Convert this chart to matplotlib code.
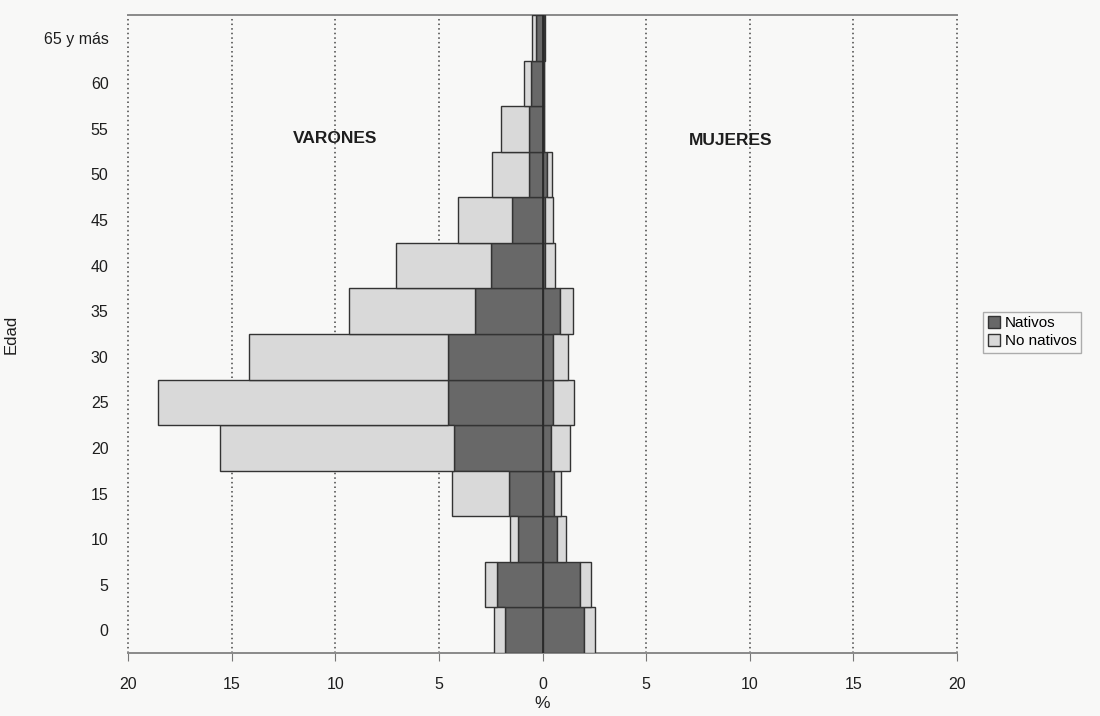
import numpy as np
import matplotlib.pyplot as plt

plt.rcParams['font.family'] = ['Liberation Sans', 'DejaVu Sans']

# age groups (bottom to top)
edades = ['0', '5', '10', '15', '20', '25', '30', '35', '40', '45', '50', '55', '60', '65 y más']

# % of population, males (left side)
var_nativos = [1.80, 2.18, 1.18, 1.63, 4.28, 4.55, 4.55, 3.26, 2.47, 1.46, 0.65, 0.65, 0.57, 0.31]
var_no_nativos = [0.54, 0.58, 0.40, 2.74, 11.30, 13.98, 9.63, 6.09, 4.61, 2.62, 1.79, 1.34, 0.34, 0.19]

# % of population, females (right side)
muj_nativos = [2.00, 1.80, 0.72, 0.56, 0.40, 0.51, 0.51, 0.83, 0.12, 0.14, 0.20, 0.06, 0.05, 0.08]
muj_no_nativos = [0.55, 0.53, 0.43, 0.35, 0.91, 1.00, 0.72, 0.64, 0.48, 0.36, 0.26, 0.03, 0.03, 0.02]

x_ticks = [-20, -15, -10, -5, 0, 5, 10, 15, 20]
x_ticklabels = ['20', '15', '10', '5', '0', '5', '10', '15', '20']

c_nat = '#686868'
c_nonat = '#d9d9d9'
c_edge = '#333333'
bg = '#f8f8f7'
txt = '#1e1e1e'

y = np.arange(len(edades))
vn = -np.array(var_nativos)
vnn = -np.array(var_no_nativos)
mn = np.array(muj_nativos)
mnn = np.array(muj_no_nativos)

fig = plt.figure(figsize=(11, 7.16), dpi=100, facecolor=bg)
ax = fig.add_axes([128/1100, 1-653/716, (957-128)/1100, (653-15)/716])
ax.set_facecolor(bg)

# males
ax.barh(y, vn, height=1.0, color=c_nat, edgecolor=c_edge, linewidth=1.0, label='Nativos', zorder=3)
ax.barh(y, vnn, left=vn, height=1.0, color=c_nonat, edgecolor=c_edge, linewidth=1.0, label='No nativos', zorder=3)
# females
ax.barh(y, mn, height=1.0, color=c_nat, edgecolor=c_edge, linewidth=1.0, zorder=3)
ax.barh(y, mnn, left=mn, height=1.0, color=c_nonat, edgecolor=c_edge, linewidth=1.0, zorder=3)

ax.axvline(0, color='#2a2a2a', linewidth=1.3, zorder=4)

# dotted vertical grid, edges included
for xv in x_ticks:
    if xv != 0:
        ax.axvline(xv, linestyle=(0, (1, 2)), color='#444444', linewidth=1.1, zorder=1, clip_on=False)

ax.set_xlim(-20, 20)
ax.set_ylim(-0.5, len(edades) - 0.5)
ax.set_xticks(x_ticks)
ax.set_xticklabels(x_ticklabels, fontsize=11.5, color=txt)
ax.set_yticks(y)
ax.set_yticklabels(edades, fontsize=11.5, color=txt)
ax.tick_params(axis='y', length=0, pad=14)
ax.tick_params(axis='x', length=6, direction='out', color='#777777', pad=11)

for s in ['left', 'right']:
    ax.spines[s].set_visible(False)
for s in ['top', 'bottom']:
    ax.spines[s].set_color('#8a8a8a')
    ax.spines[s].set_linewidth(1.4)

ax.set_xlabel('%', fontsize=12.5, labelpad=3, color=txt)
ax.set_ylabel('Edad', fontsize=12, labelpad=18, color=txt)

ax.text(-10.0, 10.8, 'VARONES', fontsize=12.5, fontweight='bold', ha='center', va='center', color=txt)
ax.text(9.1, 10.75, 'MUJERES', fontsize=12.5, fontweight='bold', ha='center', va='center', color=txt)

leg = fig.legend(loc='center left', bbox_to_anchor=(0.887, 0.536), fontsize=11,
                 frameon=True, fancybox=False, handlelength=0.8, handleheight=0.8,
                 handletextpad=0.3, borderpad=0.3, labelspacing=0.25)
leg.get_frame().set_edgecolor('#999999')
leg.get_frame().set_facecolor(bg)

fig.savefig('out.png', dpi=100, facecolor=bg)
